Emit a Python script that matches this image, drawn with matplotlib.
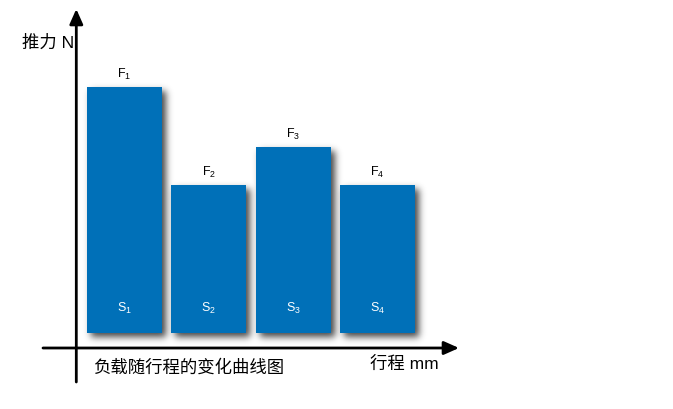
import numpy as np
import matplotlib
matplotlib.use("Agg")
import matplotlib.pyplot as plt

plt.rcParams['font.family'] = ['Liberation Sans', 'Noto Sans CJK SC', 'DejaVu Sans']
plt.rcParams['mathtext.fontset'] = 'custom'
plt.rcParams['mathtext.rm'] = 'Liberation Sans'
plt.rcParams['mathtext.it'] = 'Liberation Sans'

# ---- data ----
segments = ['S1', 'S2', 'S3', 'S4']
force_labels = [r'$\mathrm{F}_1$', r'$\mathrm{F}_2$', r'$\mathrm{F}_3$', r'$\mathrm{F}_4$']
stroke_labels = [r'$\mathrm{S}_1$', r'$\mathrm{S}_2$', r'$\mathrm{S}_3$', r'$\mathrm{S}_4$']
thrust = [246, 148, 186, 148]

y_label = '推力 N'
x_label = '行程 mm'
title = '负载随行程的变化曲线图'

BAR_COLOR = '#0070b8'
W, H = 673, 410
fig = plt.figure(figsize=(W / 100, H / 100), dpi=100)
ax = fig.add_axes([0, 0, 1, 1])
ax.set_axis_off()

pitch = 84.3
c0 = 124.5
base = 76
ax.set_xlim(-c0 / pitch, (W - c0) / pitch)
ax.set_ylim(-base, H - base)

xpos = np.arange(len(segments))
bars = ax.bar(xpos, thrust, width=0.89, color=BAR_COLOR, zorder=3)

# ---- drop shadow (blurred) ----
fig.canvas.draw()
mask = np.zeros((H, W))
off = 4
for b in bars:
    (x0, y0), (x1, y1) = ax.transData.transform([(b.get_x(), b.get_y()),
                                                 (b.get_x() + b.get_width(), b.get_y() + b.get_height())])
    r0, r1 = int(round(H - y1)) + off, int(round(H - y0)) + off
    c0p, c1p = int(round(x0)) + off, int(round(x1)) + off
    mask[max(r0, 0):min(r1, H), max(c0p, 0):min(c1p, W)] = 1.0
sigma = 3.5
k = np.arange(-12, 13)
kern = np.exp(-k ** 2 / (2 * sigma ** 2))
kern /= kern.sum()
mask = np.apply_along_axis(lambda v: np.convolve(v, kern, mode='same'), 0, mask)
mask = np.apply_along_axis(lambda v: np.convolve(v, kern, mode='same'), 1, mask)
rgba = np.zeros((H, W, 4))
rgba[..., :3] = 0.15
rgba[..., 3] = np.clip(mask * 0.85, 0, 1)
ax.imshow(rgba, extent=(*ax.get_xlim(), *ax.get_ylim()), origin='upper',
          aspect='auto', zorder=2, interpolation='nearest')
ax.set_xlim(-c0 / pitch, (W - c0) / pitch)
ax.set_ylim(-base, H - base)

# ---- labels on bars ----
for x, h, fl, sl in zip(xpos, thrust, force_labels, stroke_labels):
    ax.annotate(fl, (x, h), xytext=(0, 7.5), textcoords='offset points',
                ha='center', va='baseline', fontsize=9, color='black', zorder=4)
    ax.annotate(sl, (x, 0), xytext=(0, 16), textcoords='offset points',
                ha='center', va='baseline', fontsize=9, color='white', zorder=4)

# ---- axes arrows ----
ap = dict(arrowstyle='-|>,head_length=0.9,head_width=0.4', lw=2, color='black',
          shrinkA=0, shrinkB=0)
ax.annotate('', xy=(76.3 / W, 1 - 10 / H), xytext=(76.3 / W, 1 - 383 / H),
            xycoords='axes fraction', textcoords='axes fraction', arrowprops=ap)
ax.annotate('', xy=(459 / W, 1 - 349 / H), xytext=(43 / W, 1 - 349 / H),
            xycoords='axes fraction', textcoords='axes fraction', arrowprops=ap)

# ---- axis titles ----
ax.text(22 / W, 1 - 43 / H, y_label, transform=ax.transAxes, ha='left', va='center',
        fontsize=12.5)
ax.text(370 / W, 1 - 364 / H, x_label, transform=ax.transAxes, ha='left', va='center',
        fontsize=12.5)
ax.text(93 / W, 1 - 368 / H, title, transform=ax.transAxes, ha='left', va='center',
        fontsize=12.5, family=['Noto Sans CJK SC', 'DejaVu Sans'])

fig.savefig('out.png', dpi=100)
